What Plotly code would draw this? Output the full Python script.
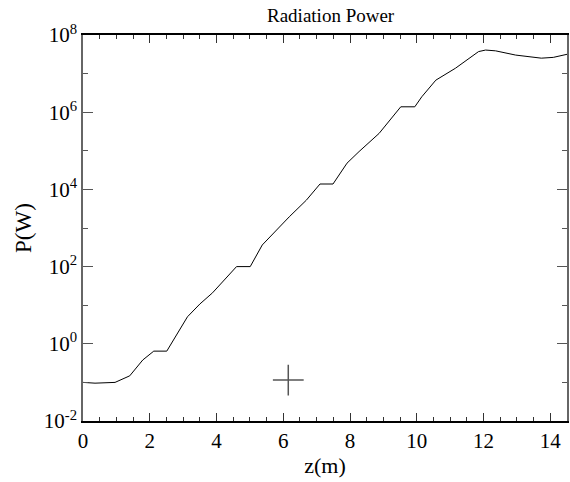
import plotly.graph_objects as go

# Radiation power along undulator
z_m = [0.0, 0.36, 0.96, 1.40, 1.79, 2.12, 2.51, 2.81, 3.13, 3.50, 3.88, 4.60, 5.01,
       5.37, 6.18, 6.69, 7.10, 7.49, 7.91, 8.27, 8.87, 9.52, 9.94, 10.15, 10.57,
       11.16, 11.64, 11.85, 12.06, 12.36, 12.96, 13.73, 14.09, 14.5]
log_p = [-1.0, -1.02, -1.0, -0.83, -0.42, -0.19, -0.19, 0.23, 0.70, 1.03, 1.32, 2.0, 2.0,
         2.56, 3.29, 3.72, 4.14, 4.14, 4.68, 4.98, 5.45, 6.14, 6.14, 6.40, 6.83,
         7.14, 7.44, 7.57, 7.61, 7.59, 7.48, 7.40, 7.42, 7.50]
power_w = [10 ** v for v in log_p]

# Cross marker
marker_z = [6.15]
marker_p = [0.115]

major_exp = [-2, 0, 2, 4, 6, 8]
minor_exp = [-1, 1, 3, 5, 7]
major_vals = [10.0 ** e for e in major_exp]
major_text = ["10<sup>%d</sup>" % e for e in major_exp]
minor_vals = [10.0 ** e for e in minor_exp]

x_major = [0, 2, 4, 6, 8, 10, 12, 14]
x_minor = [0.5 * i for i in range(0, 30) if i % 4 != 0]

font_family = "Liberation Serif, Times New Roman, serif"

fig = go.Figure()
fig.add_trace(go.Scatter(x=z_m, y=power_w, mode="lines",
                         line=dict(color="black", width=1), showlegend=False))
fig.add_trace(go.Scatter(x=marker_z, y=marker_p, mode="markers",
                         marker=dict(symbol="cross-thin", size=22,
                                     line=dict(color="#555555", width=1.5)),
                         showlegend=False))

fig.update_layout(
    width=570, height=482,
    margin=dict(l=83, r=1, t=35, b=61),
    paper_bgcolor="white", plot_bgcolor="white",
    font=dict(family=font_family, color="black"),
    title=dict(text="Radiation Power", x=0.58, xanchor="center", y=0.968, yanchor="middle",
               font=dict(size=19, family=font_family)),
    xaxis=dict(range=[0, 14.5], tickvals=x_major, ticks="inside", ticklen=8, tickwidth=1,
               tickcolor="#333", showline=True, linecolor="black", linewidth=1.5, mirror="ticks",
               showgrid=False, zeroline=False, tickfont=dict(size=21),
               minor=dict(tickvals=x_minor, ticks="inside", ticklen=4, tickcolor="#333"),
               title=dict(text="z(m)", font=dict(size=22), standoff=6)),
    yaxis=dict(type="log", range=[-2, 8], tickvals=major_vals, ticktext=major_text,
               ticks="inside", ticklen=10, tickwidth=1, tickcolor="#555",
               showline=True, linecolor="#666", linewidth=1.5, mirror="ticks",
               showgrid=False, zeroline=False, tickfont=dict(size=21),
               minor=dict(tickvals=minor_vals, ticks="inside", ticklen=5, tickcolor="#555"),
               title=dict(text="P(W)", font=dict(size=23), standoff=6)),
)

fig.write_html("out.html", config={"displayModeBar": False},
               post_script="document.body.style.margin='0';document.body.style.overflow='hidden';")
